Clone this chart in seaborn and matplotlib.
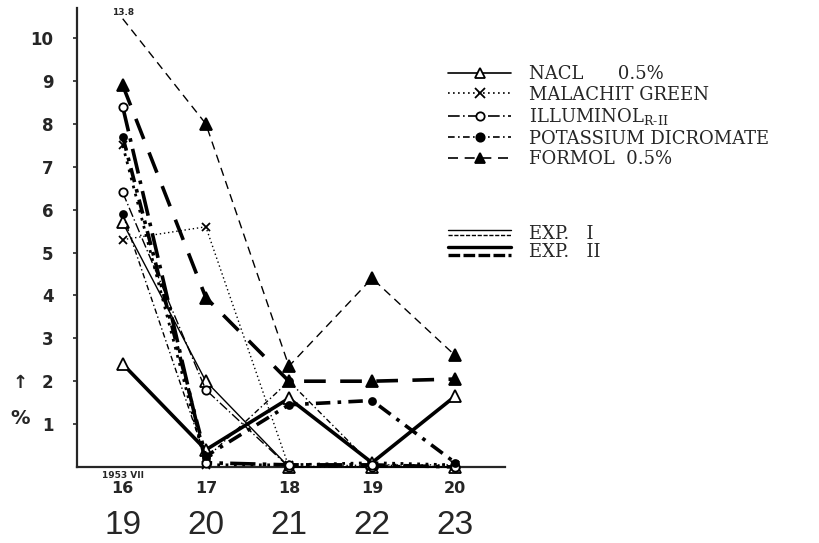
import numpy as np
import pandas as pd
import matplotlib
matplotlib.use("Agg")
import matplotlib.pyplot as plt
import seaborn as sns
from matplotlib.lines import Line2D
from matplotlib.legend_handler import HandlerBase

# ---------------- data ----------------
days = [16, 17, 18, 19, 20]
days_exp2 = [19, 20, 21, 22, 23]
year_label = "1953 VII"
y_ticks = [1, 2, 3, 4, 5, 6, 7, 8, 9, 10]

# Exp. I (thin lines)
nacl_I = [5.7, 2.0, 0.0, 0.0, 0.0]
malachite_I = [5.3, 5.6, 0.0, 0.05, 0.05]
illuminol_I = [6.4, 1.8, 0.0, 0.0, 0.0]
potassium_I = [5.9, 0.2, 2.0, 0.05, 0.0]
formol_I = [13.8, 8.0, 2.35, 4.4, 2.6]

# Exp. II (thick lines)
nacl_II = [2.4, 0.4, 1.6, 0.1, 1.65]
malachite_II = [7.5, 0.05, 0.05, 0.1, 0.05]
illuminol_II = [8.4, 0.1, 0.05, 0.05, 0.0]
potassium_II = [7.7, 0.25, 1.45, 1.55, 0.1]
formol_II = [8.9, 3.95, 2.0, 2.0, 2.05]

labels = ["NACL      0.5%", "MALACHIT GREEN", r"ILLUMINOL$_{\mathrm{R\text{-}II}}$",
          "POTASSIUM DICROMATE", "FORMOL  0.5%"]
exp_labels = ["EXP.   I", "EXP.   II"]

Y_TOP = 10.7
Y_CLIP = 10.45

# ---------------- style ----------------
sns.set_style("ticks")
plt.rcParams["font.family"] = ["DejaVu Sans"]
plt.rcParams["mathtext.fontset"] = "dejavuserif"

fig = plt.figure(figsize=(8.19, 5.43), dpi=100)
ax = fig.add_axes([77 / 819, 1 - 467 / 543, 428 / 819, 459 / 543])

styles = {
    "nacl": dict(ls="-", marker="^", mfc="white"),
    "malachite": dict(ls=(0, (1, 2)), marker="x", mfc="black"),
    "illuminol": dict(ls=(0, (7, 2, 1, 2)), marker="o", mfc="white"),
    "potassium": dict(ls=(0, (4, 2, 1, 2)), marker="o", mfc="black"),
    "formol": dict(ls=(0, (6, 4)), marker="^", mfc="black"),
}

series = [
    ("nacl", nacl_I, 1.0), ("malachite", malachite_I, 1.0), ("illuminol", illuminol_I, 1.0),
    ("potassium", potassium_I, 1.0), ("formol", formol_I, 1.0),
    ("nacl", nacl_II, 2.6), ("malachite", malachite_II, 2.0), ("illuminol", illuminol_II, 2.6),
    ("potassium", potassium_II, 2.6), ("formol", formol_II, 2.6),
]

for name, vals, lw in series:
    st = styles[name]
    vals = np.asarray(vals, dtype=float)
    df = pd.DataFrame({"day": days, "value": np.minimum(vals, Y_CLIP)})
    ms = 8 if st["marker"] == "^" else 6
    if name == "potassium":
        ms = 5
    mark_idx = [i for i, v in enumerate(vals) if v <= Y_TOP]
    sns.lineplot(data=df, x="day", y="value", ax=ax, color="black", lw=lw,
                 linestyle=st["ls"], marker=st["marker"], markersize=ms,
                 markevery=mark_idx,
                 markerfacecolor=st["mfc"], markeredgecolor="black",
                 markeredgewidth=1.3, clip_on=False, zorder=3)
    for i, v in enumerate(vals):
        if v > Y_TOP:
            ax.annotate(f"{v:.1f}", xy=(days[i], Y_CLIP), xytext=(0, 1),
                        textcoords="offset points", ha="center", va="bottom",
                        fontsize=6.5, fontweight="bold", annotation_clip=False)

ax.set_xlim(15.45, 20.6)
ax.set_ylim(0, Y_TOP)
sns.despine(ax=ax)
ax.spines["left"].set_linewidth(1.6)
ax.spines["bottom"].set_linewidth(1.6)
ax.set_xlabel("")
ax.set_ylabel("")

ax.set_yticks(y_ticks)
ax.set_yticklabels([str(v) for v in y_ticks], fontsize=12, fontweight="bold")
ax.tick_params(axis="y", length=3, width=1.2, pad=14)
ax.set_xticks(days)
ax.set_xticklabels([str(d) for d in days], fontsize=11.5, fontweight="bold")
ax.tick_params(axis="x", length=0, pad=10)

# second row of day labels (exp II dates)
for d, d2 in zip(days, days_exp2):
    ax.annotate(str(d2), xy=(d, 0), xycoords=("data", "axes fraction"),
                xytext=(0, -42), textcoords="offset points", ha="center", va="center",
                fontsize=24, family=["Liberation Sans", "DejaVu Sans"])

ax.annotate(year_label, xy=(days[0], 0), xycoords=("data", "axes fraction"),
            xytext=(0, -3), textcoords="offset points", ha="center", va="top",
            fontsize=6.5, fontweight="bold")

fig.text(20 / 819, 1 - 383 / 543, "↑", ha="center", va="center", fontsize=13, fontweight="bold")
fig.text(20 / 819, 1 - 418 / 543, "%", ha="center", va="center", fontsize=14, fontweight="bold")

# ---------------- legends ----------------
handles = []
for name in ["nacl", "malachite", "illuminol", "potassium", "formol"]:
    st = styles[name]
    handles.append(Line2D([], [], color="black", lw=1.2, ls=st["ls"], marker=st["marker"],
                          markersize=7 if st["marker"] != "o" else 6,
                          markerfacecolor=st["mfc"], markeredgecolor="black",
                          markeredgewidth=1.3))

leg_prop = {"family": "DejaVu Serif", "size": 13}
leg1 = fig.legend(handles, labels, loc="upper left", bbox_to_anchor=(448 / 819, 1 - 65 / 543),
                  frameon=False, prop=leg_prop, handlelength=3.5, handletextpad=1.0,
                  labelspacing=0.14, borderpad=0, borderaxespad=0)


class DoubleLine(HandlerBase):
    def __init__(self, lw, **kw):
        super().__init__(**kw)
        self.lw = lw

    def create_artists(self, legend, orig_handle, xdescent, ydescent, width, height,
                       fontsize, trans):
        ym = height / 2 - ydescent
        x0, x1 = -xdescent, width - xdescent
        gap = 1.8 if self.lw < 2 else 2.6
        a = Line2D([x0, x1], [ym + gap, ym + gap], color="black", lw=self.lw, transform=trans)
        b = Line2D([x0, x1], [ym - gap, ym - gap], color="black", lw=self.lw,
                   ls=(0, (3, 1.2)) if self.lw < 2 else (0, (3.5, 1)), transform=trans)
        return [a, b]


h1 = Line2D([], [], color="black")
h2 = Line2D([], [], color="black", lw=2)
leg2 = fig.legend([h1, h2], exp_labels, loc="upper left",
                  bbox_to_anchor=(448 / 819, 1 - 225 / 543), frameon=False, prop=leg_prop,
                  handlelength=3.5, handletextpad=1.0, labelspacing=0.02, borderpad=0,
                  borderaxespad=0,
                  handler_map={h1: DoubleLine(1.0), h2: DoubleLine(2.4)})

fig.savefig("out.png", dpi=100)
